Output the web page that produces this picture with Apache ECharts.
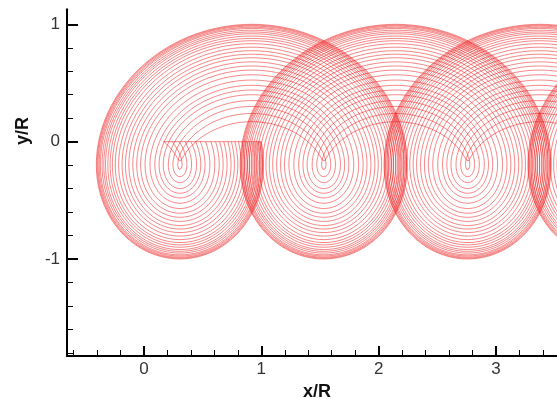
<!DOCTYPE html>
<html><head><meta charset="utf-8">
<script src="https://cdn.jsdelivr.net/npm/echarts@6/dist/echarts.min.js"></script>
<style>html,body{margin:0;padding:0;background:#fff}#c{width:557px;height:399px}</style>
</head><body><div id="c"></div>
<script>
// Radial stations of the trailed filaments (r/R), read from the nested loops
const filamentRadii = [0.17, 0.24, 0.30, 0.35, 0.40, 0.44, 0.48, 0.525, 0.57, 0.61, 0.645, 0.68,
  0.715, 0.745, 0.775, 0.805, 0.835, 0.86, 0.88, 0.90, 0.92, 0.935, 0.95, 0.965, 0.975, 0.985, 0.993, 1.0];
// Streamwise distance between successive wake loops (x/R), read from the loop cusps
const lobeSpacing = 1.226;
const wakeRevolutions = 4;
const stepDeg = 3;
// Blade (lifting line) from root to tip, on y/R = 0
const bladeSpan = [0.165, 1.0];
const xMajorTicks = [0, 1, 2, 3];
const xMinorTicks = [-0.6, -0.4, -0.2, 0.2, 0.4, 0.6, 0.8, 1.2, 1.4, 1.6, 1.8, 2.2, 2.4, 2.6, 2.8, 3.2, 3.4];
const yMajorTicks = [-1, 0, 1];
const yMinorTicks = [-1.8, -1.6, -1.4, -1.2, -0.8, -0.6, -0.4, -0.2, 0.2, 0.4, 0.6, 0.8];

const mu = lobeSpacing / (2 * Math.PI);
function filament(r) {
  const pts = [];
  const n = Math.round(wakeRevolutions * 360 / stepDeg);
  for (let i = 0; i <= n; i++) {
    const phi = i * stepDeg * Math.PI / 180;
    pts.push([r * Math.cos(phi) + mu * phi, -r * Math.sin(phi)]);
  }
  return pts;
}

const lineColor = 'rgba(238,20,20,0.5)';
const series = filamentRadii.map(r => ({
  type: 'line', data: filament(r), showSymbol: false, symbol: 'none', silent: true,
  clip: true, animation: false, lineStyle: { color: lineColor, width: 1 }
}));
series.push({
  type: 'line', data: [[bladeSpan[0], 0], [bladeSpan[1], 0]], showSymbol: false, symbol: 'none',
  silent: true, clip: true, animation: false, lineStyle: { color: lineColor, width: 1 }
});

const XMIN = -0.656, XMAX = 3.52, YMIN = -1.827, YMAX = 1.128;
const labelStyle = { color: '#333', fontSize: 17, fontFamily: 'Liberation Sans, Arial, sans-serif' };

const chart = echarts.init(document.getElementById('c'), null, { renderer: 'canvas' });
chart.setOption({
  animation: false,
  grid: { left: 67, right: 0, top: 9.3, bottom: 43, containLabel: false, outerBoundsMode: 'none' },
  xAxis: [
    { type: 'value', min: XMIN, max: XMAX, position: 'bottom',
      axisLine: { show: true, onZero: false, lineStyle: { color: '#000', width: 2 } },
      axisTick: { show: true, inside: true, length: 10, customValues: xMajorTicks, lineStyle: { color: '#000', width: 2 } },
      axisLabel: Object.assign({ show: true, margin: 5, customValues: xMajorTicks }, labelStyle),
      splitLine: { show: false },
      name: 'x/R', nameLocation: 'middle', nameGap: 19,
      nameTextStyle: { color: '#111', fontSize: 18, fontWeight: 'bold', fontFamily: 'Liberation Sans, Arial, sans-serif', padding: [0, 0, 0, 10] } },
    { type: 'value', min: XMIN, max: XMAX, position: 'bottom', gridIndex: 0,
      axisLine: { show: false, onZero: false },
      axisTick: { show: true, inside: true, length: 6, customValues: xMinorTicks, lineStyle: { color: '#000', width: 1 } },
      axisLabel: { show: false }, splitLine: { show: false } }
  ],
  yAxis: [
    { type: 'value', min: YMIN, max: YMAX, position: 'left',
      axisLine: { show: true, onZero: false, lineStyle: { color: '#000', width: 2 } },
      axisTick: { show: true, inside: true, length: 11, customValues: yMajorTicks, lineStyle: { color: '#000', width: 2 } },
      axisLabel: Object.assign({ show: true, margin: 7, customValues: yMajorTicks }, labelStyle),
      splitLine: { show: false } },
    { type: 'value', min: YMIN, max: YMAX, position: 'left', gridIndex: 0,
      axisLine: { show: false, onZero: false },
      axisTick: { show: true, inside: true, length: 6, customValues: yMinorTicks, lineStyle: { color: '#000', width: 1 } },
      axisLabel: { show: false }, splitLine: { show: false } }
  ],
  graphic: [{
    type: 'text', x: 23, y: 131, rotation: Math.PI / 2,
    style: { text: 'y/R', fill: '#111', font: 'bold 18px "Liberation Sans", Arial, sans-serif',
      textAlign: 'center', textVerticalAlign: 'middle' }
  }],
  series: series
});
</script></body></html>
